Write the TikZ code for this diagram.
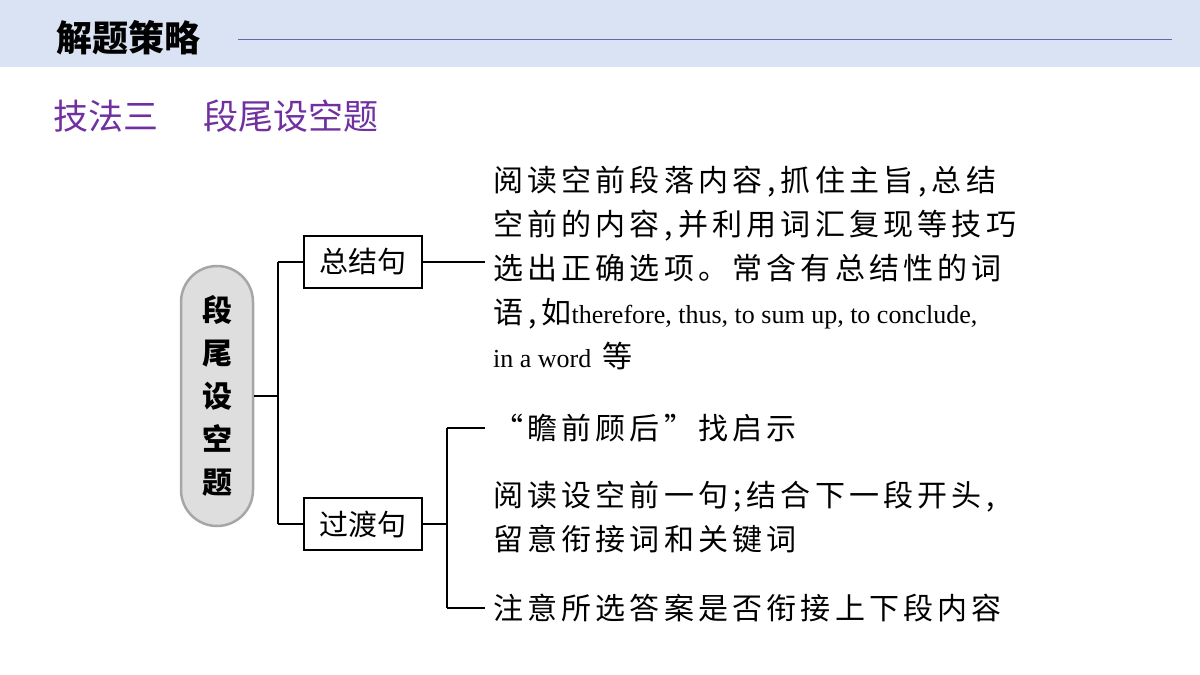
\documentclass[tikz,border=0pt]{standalone}
\usepackage{fontspec}
\newfontfamily\cjk{Noto Sans CJK SC}
\newfontfamily\cjkwide{Noto Sans CJK SC}[LetterSpace=14]
\newfontfamily\enfont{Liberation Serif}
\usetikzlibrary{positioning}
\definecolor{bandblue}{HTML}{DAE3F3}
\definecolor{titlepurple}{HTML}{7030A0}
\tikzset{
    branch/.style = {draw, line width = 1.4pt, inner sep = 0pt, minimum width = 118pt, minimum height = 52pt,
        font = \cjk\fontsize{29}{30}\selectfont},
    stem/.style   = {line width = 1.4pt},
    para/.style   = {anchor = north west, inner sep = 0pt, align = left,
        font = \cjkwide\fontsize{30}{44}\selectfont},
}
\begin{document}
\begin{tikzpicture}[x=1pt, y=-1pt]
        \useasboundingbox (0,0) rectangle (1200,675);
        \fill [bandblue] (0,0) rectangle (1200,67);
        \node (head) [anchor=west, inner sep=0pt, font=\cjk\bfseries\fontsize{36}{38}\selectfont] at (56,38) {解题策略};
        \coordinate (rule) at (1172,39);
        \draw [color=black!55!blue!60, thick] (238,39) -- (rule);
        \node (sub) [anchor=west, inner sep=0pt, text=titlepurple, font=\cjk\fontsize{35}{36}\selectfont] at (53,116) {技法三\hspace{1.3em}段尾设空题};

        \node (topic) [draw=black!35, line width=2.5pt, fill=black!13, rounded corners=36pt,
            minimum width=72pt, minimum height=260pt, align=center,
            font=\cjk\bfseries\fontsize{30}{43}\selectfont] at (217,396) {段\\尾\\设\\空\\题};

        \node (sum) [branch] at (363,262) {总结句};
        \node (trans) [branch] at (363,524) {过渡句};
        \coordinate (fork) at (278,396);
        \draw [stem] (topic.east) -- (fork) (fork |- sum) -- (fork |- trans);
        \draw [stem] (fork |- sum) -- (sum.west) (fork |- trans) -- (trans.west);

        \node (sumtext) [para] at (493,166) {阅读空前段落内容\,,\,抓住主旨\,,\,总结\\空前的内容\,,\,并利用词汇复现等技巧\\选出正确选项。常含有总结性的词\\语\,,\,如{\enfont\fontsize{26}{44}\selectfont therefore, thus, to sum up, to conclude,}\\{\enfont\fontsize{26}{44}\selectfont in a word} 等};
        \coordinate (sumend) at (485,262);
        \draw [stem] (sum.east) -- (sumend);

        \coordinate (brace) at (447,524);
        \node (hint) [para, anchor=west] at (493,428) {“瞻前顾后”找启示};
        \node (prev) [para, anchor=west] at (493,517) {阅读设空前一句\,;\,结合下一段开头\,,\\留意衔接词和关键词};
        \node (check) [para, anchor=west] at (493,608) {注意所选答案是否衔接上下段内容};
        \draw [stem] (trans.east) -- (brace) (brace |- hint) -- (brace |- check);
        \draw [stem] (brace |- hint) -- (485,428) (brace |- check) -- (485,608);
    \end{tikzpicture}
\end{document}
